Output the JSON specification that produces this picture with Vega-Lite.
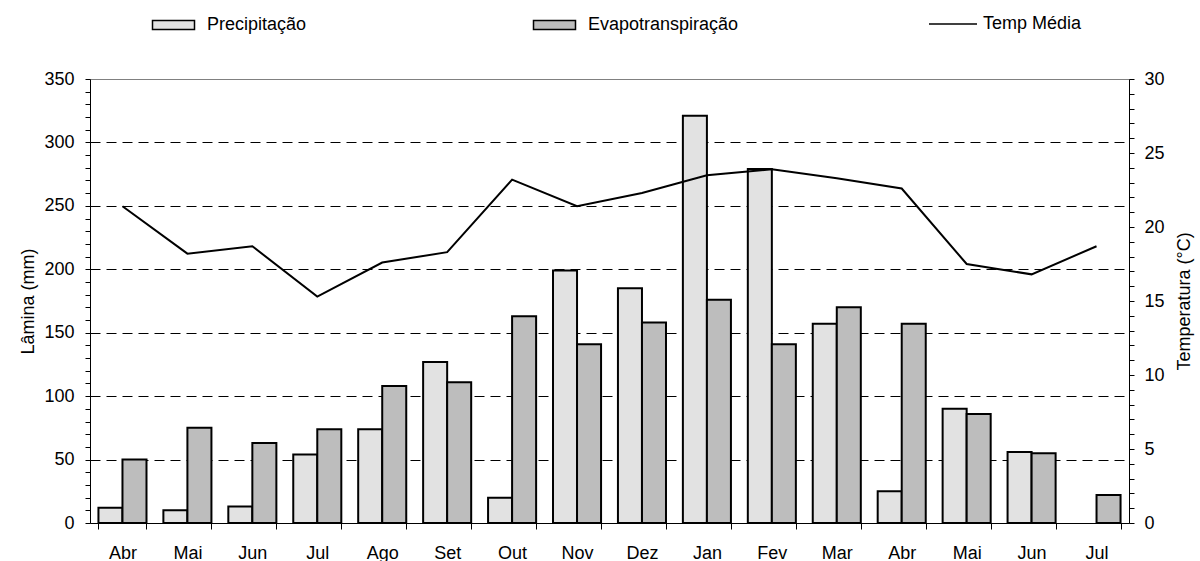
{
  "$schema": "https://vega.github.io/schema/vega-lite/v6.json",
  "width": 1039,
  "height": 444,
  "autosize": {"type": "none"},
  "padding": {"left": 90, "top": 79, "right": 71, "bottom": 38},
  "background": "white",
  "data": {
    "values": [
      {"mes": "Abr_1", "Precipitação": 12, "Evapotranspiração": 50, "temp": 21.4},
      {"mes": "Mai_1", "Precipitação": 10, "Evapotranspiração": 75, "temp": 18.2},
      {"mes": "Jun_1", "Precipitação": 13, "Evapotranspiração": 63, "temp": 18.7},
      {"mes": "Jul_1", "Precipitação": 54, "Evapotranspiração": 74, "temp": 15.3},
      {"mes": "Ago_1", "Precipitação": 74, "Evapotranspiração": 108, "temp": 17.6},
      {"mes": "Set_1", "Precipitação": 127, "Evapotranspiração": 111, "temp": 18.3},
      {"mes": "Out_1", "Precipitação": 20, "Evapotranspiração": 163, "temp": 23.2},
      {"mes": "Nov_1", "Precipitação": 199, "Evapotranspiração": 141, "temp": 21.4},
      {"mes": "Dez_1", "Precipitação": 185, "Evapotranspiração": 158, "temp": 22.3},
      {"mes": "Jan_2", "Precipitação": 321, "Evapotranspiração": 176, "temp": 23.5},
      {"mes": "Fev_2", "Precipitação": 279, "Evapotranspiração": 141, "temp": 23.9},
      {"mes": "Mar_2", "Precipitação": 157, "Evapotranspiração": 170, "temp": 23.3},
      {"mes": "Abr_2", "Precipitação": 25, "Evapotranspiração": 157, "temp": 22.6},
      {"mes": "Mai_2", "Precipitação": 90, "Evapotranspiração": 86, "temp": 17.5},
      {"mes": "Jun_2", "Precipitação": 56, "Evapotranspiração": 55, "temp": 16.8},
      {"mes": "Jul_2", "Precipitação": null, "Evapotranspiração": 22, "temp": 18.7}
    ]
  },
  "encoding": {
    "x": {
      "field": "mes",
      "type": "nominal",
      "sort": null,
      "scale": {"paddingInner": 0.26, "paddingOuter": 0.13},
      "axis": {
        "title": null,
        "tickBand": "extent",
        "labelExpr": "split(datum.label, '_')[0]",
        "tickSize": 6,
        "labelPadding": 15,
        "labelAngle": 0
      }
    }
  },
  "layer": [
    {
      "layer": [
        {
          "transform": [
            {"fold": ["Precipitação"], "as": ["serie", "valor"]},
            {"filter": "datum.valor != null"}
          ],
          "mark": {"type": "bar", "stroke": "black", "strokeWidth": 2},
          "encoding": {
            "xOffset": {"field": "serie", "scale": {"domain": ["Precipitação", "Evapotranspiração"], "paddingInner": 0, "paddingOuter": 0}},
            "y": {
              "field": "valor",
              "type": "quantitative",
              "scale": {"domain": [0, 350], "nice": false},
              "axis": {
                "title": "Lâmina (mm)",
                "values": [0,10,20,30,40,50,60,70,80,90,100,110,120,130,140,150,160,170,180,190,200,210,220,230,240,250,260,270,280,290,300,310,320,330,340,350],
                "labelExpr": "datum.value % 50 === 0 ? datum.label : ''",
                "labelOverlap": false,
                "tickSize": 5,
                "labelPadding": 11,
                "titlePadding": 6,
                "grid": true,
                "gridDash": [10, 6],
                "gridColor": "black",
                "gridOpacity": {"condition": {"test": "datum.value % 50 === 0 && datum.value > 0 && datum.value < 350", "value": 1}, "value": 0}
              }
            },
            "fill": {
              "field": "serie",
              "type": "nominal",
              "scale": {"domain": ["Precipitação"], "range": ["#e2e2e2"]},
              "legend": {
                "orient": "none",
                "legendX": 58.5,
                "legendY": -63,
                "title": null,
                "symbolType": "M-1,-0.9H7.4V0.9H-1Z",
                "symbolSize": 100,
                "symbolStrokeColor": "black",
                "symbolStrokeWidth": 1.5,
                "labelOffset": 40.5,
                "labelFontSize": 18
              }
            }
          }
        },
        {
          "transform": [
            {"fold": ["Evapotranspiração"], "as": ["serie", "valor"]},
            {"filter": "datum.valor != null"}
          ],
          "mark": {"type": "bar", "stroke": "black", "strokeWidth": 2},
          "encoding": {
            "xOffset": {"field": "serie", "scale": {"domain": ["Precipitação", "Evapotranspiração"], "paddingInner": 0, "paddingOuter": 0}},
            "y": {
              "field": "valor",
              "type": "quantitative",
              "scale": {"domain": [0, 350], "nice": false},
              "axis": {
                "title": "Lâmina (mm)",
                "values": [0,10,20,30,40,50,60,70,80,90,100,110,120,130,140,150,160,170,180,190,200,210,220,230,240,250,260,270,280,290,300,310,320,330,340,350],
                "labelExpr": "datum.value % 50 === 0 ? datum.label : ''",
                "labelOverlap": false,
                "tickSize": 5,
                "labelPadding": 11,
                "titlePadding": 6,
                "grid": true,
                "gridDash": [10, 6],
                "gridColor": "black",
                "gridOpacity": {"condition": {"test": "datum.value % 50 === 0 && datum.value > 0 && datum.value < 350", "value": 1}, "value": 0}
              }
            },
            "fill": {
              "field": "serie",
              "type": "nominal",
              "scale": {"domain": ["Evapotranspiração"], "range": ["#bdbdbd"]},
              "legend": {
                "orient": "none",
                "legendX": 439.5,
                "legendY": -63,
                "title": null,
                "symbolType": "M-1,-0.9H7.4V0.9H-1Z",
                "symbolSize": 100,
                "symbolStrokeColor": "black",
                "symbolStrokeWidth": 1.5,
                "labelOffset": 40.5,
                "labelFontSize": 18
              }
            }
          }
        }
      ],
      "resolve": {"scale": {"fill": "independent"}}
    },
    {
      "mark": {"type": "line", "strokeWidth": 2},
      "encoding": {
        "y": {
          "field": "temp",
          "type": "quantitative",
          "scale": {"domain": [0, 30], "nice": false},
          "axis": {
            "orient": "right",
            "title": "Temperatura (°C)",
            "titleAngle": 270,
            "values": [0,1,2,3,4,5,6,7,8,9,10,11,12,13,14,15,16,17,18,19,20,21,22,23,24,25,26,27,28,29,30],
            "labelExpr": "datum.value % 5 === 0 ? datum.label : ''",
            "labelOverlap": false,
            "tickSize": 5,
            "labelPadding": 10,
            "titlePadding": 29,
            "grid": false
          }
        },
        "stroke": {
          "datum": "Temp Média",
          "scale": {"range": ["black"]},
          "legend": {
            "orient": "none",
            "legendX": 838,
            "legendY": -80,
            "title": null,
            "symbolType": "stroke",
            "symbolSize": 2304,
            "symbolStrokeWidth": 1.5,
            "labelOffset": 5,
            "labelFontSize": 18
          }
        }
      }
    }
  ],
  "resolve": {"scale": {"y": "independent"}},
  "config": {
    "font": "Liberation Sans",
    "axis": {
      "labelFont": "Liberation Sans",
      "titleFont": "Liberation Sans",
      "labelFontSize": 18,
      "titleFontSize": 18,
      "titleFontWeight": "normal",
      "labelColor": "black",
      "titleColor": "black",
      "domainColor": "black",
      "tickColor": "black",
      "domainWidth": 1,
      "tickWidth": 1
    },
    "legend": {"labelFont": "Liberation Sans", "labelFontSize": 18, "labelColor": "black"},
    "view": {"stroke": "#808080"}
  }
}
